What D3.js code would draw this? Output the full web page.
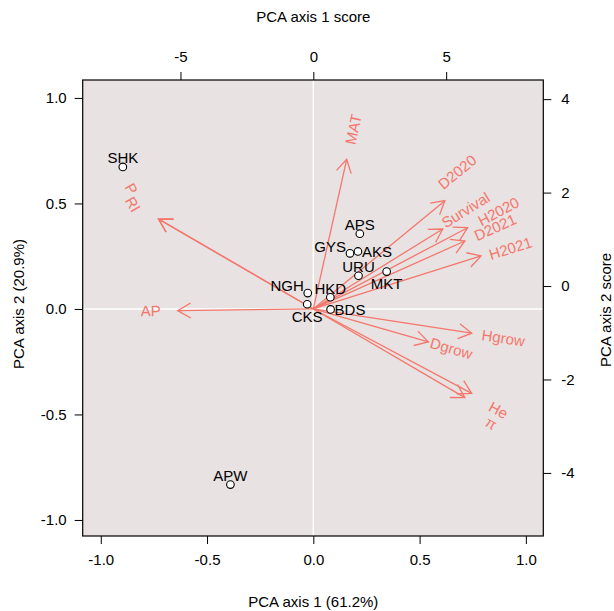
<!DOCTYPE html>
<html>
<head>
<meta charset="utf-8">
<script src="https://cdn.jsdelivr.net/npm/d3@7"></script>
<style>
  body { margin: 0; background: #fff; }
  text { font-family: "Liberation Sans", Arial, sans-serif; font-size: 15px; }
  .tick line { stroke: #000; }
  .domain { display: none; }
  .trait { fill: #F4776C; }
  .arrow { stroke: #F4776C; stroke-width: 1.3px; fill: none; }
</style>
</head>
<body>
<div id="chart"></div>
<script>
// site scores (PCA axis 1 score, PCA axis 2 score)
var sites = ["SHK", "NGH", "CKS", "HKD", "BDS", "APS", "GYS", "AKS", "URU", "MKT", "APW"];
var score1 = [-7.17, -0.21, -0.23, 0.64, 0.65, 1.75, 1.38, 1.68, 1.70, 2.76, -3.12];
var score2 = [2.55, -0.15, -0.39, -0.24, -0.50, 1.12, 0.70, 0.74, 0.22, 0.31, -4.25];

// trait loadings (axis 1, axis 2)
var traits = ["AP", "P", "RI", "MAT", "D2020", "Survival", "H2020", "D2021", "H2021", "Hgrow", "Dgrow", "He", "π"];
var load1 = [-0.638, -0.729, -0.727, 0.157, 0.619, 0.609, 0.726, 0.713, 0.789, 0.745, 0.541, 0.745, 0.713];
var load2 = [-0.008, 0.427, 0.425, 0.709, 0.513, 0.379, 0.385, 0.322, 0.251, -0.115, -0.156, -0.400, -0.420];

var loadTicks = [-1.0, -0.5, 0.0, 0.5, 1.0];
var score1Ticks = [-5, 0, 5];
var score2Ticks = [-4, -2, 0, 2, 4];

var width = 614, height = 611;
var L = 82.7, R = 543.3, T = 80, B = 536;

var x = d3.scaleLinear().domain([-1.085, 1.082]).range([L, R]);
var y = d3.scaleLinear().domain([-1.076, 1.085]).range([B, T]);
var xs = d3.scaleLinear().domain([-8.68, 8.656]).range([L, R]);
var ys = d3.scaleLinear().domain([-5.35, 4.41]).range([B, T]);

var svg = d3.select("#chart").append("svg")
    .attr("width", width).attr("height", height);

svg.append("rect")
    .attr("x", L).attr("y", T).attr("width", R - L).attr("height", B - T)
    .attr("fill", "#E8E2E2");

// zero lines
svg.append("line").attr("x1", x(0)).attr("x2", x(0)).attr("y1", T).attr("y2", B)
    .attr("stroke", "#fff").attr("stroke-width", 1.5);
svg.append("line").attr("x1", L).attr("x2", R).attr("y1", y(0)).attr("y2", y(0))
    .attr("stroke", "#fff").attr("stroke-width", 1.5);

// axes (plain hyphen for minus, like the R original)
function hy(f) { return function(d) { return f(d).replace("\u2212", "-"); }; }
var fmt = hy(d3.format(".1f")), ifmt = hy(d3.format("d"));
svg.append("g").attr("transform", "translate(0," + B + ")")
    .call(d3.axisBottom(x).tickValues(loadTicks).tickFormat(fmt).tickSize(8).tickPadding(10));
svg.append("g").attr("transform", "translate(" + L + ",0)")
    .call(d3.axisLeft(y).tickValues(loadTicks).tickFormat(fmt).tickSize(8).tickPadding(8));
svg.append("g").attr("transform", "translate(0," + T + ")")
    .call(d3.axisTop(xs).tickValues(score1Ticks).tickFormat(ifmt).tickSize(8).tickPadding(10));
svg.append("g").attr("transform", "translate(" + R + ",0)")
    .call(d3.axisRight(ys).tickValues(score2Ticks).tickFormat(ifmt).tickSize(8).tickPadding(10));
svg.selectAll(".tick text").attr("font-size", 15).attr("fill", "#000")
    .style("font-family", "'Liberation Sans', Arial, sans-serif");

svg.append("rect")
    .attr("x", L).attr("y", T).attr("width", R - L).attr("height", B - T)
    .attr("fill", "none").attr("stroke", "#000").attr("stroke-width", 1.2);

// axis titles
svg.append("text").attr("x", x(0)).attr("y", 607).attr("text-anchor", "middle").text("PCA axis 1 (61.2%)");
svg.append("text").attr("x", x(0)).attr("y", 22).attr("text-anchor", "middle").text("PCA axis 1 score");
svg.append("text").attr("transform", "translate(24,304) rotate(-90)").attr("text-anchor", "middle")
    .text("PCA axis 2 (20.9%)");
svg.append("text").attr("transform", "translate(611,310) rotate(-90)").attr("text-anchor", "middle")
    .text("PCA axis 2 score");

// trait arrows
var ox = x(0), oy = y(0);
var nudge = { "P": [4, -12], "RI": [5, 3], "D2020": [-14, -7], "He": [-5, 0], "π": [-4, 8],
              "Survival": [-3, -3], "H2021": [-4, 3] };
var turn = { "P": 60, "RI": 60 };
var g = svg.append("g");
traits.forEach(function(name, i) {
    var tx = x(load1[i]), ty = y(load2[i]);
    var dx = tx - ox, dy = ty - oy;
    var a = Math.atan2(dy, dx);
    g.append("line").attr("class", "arrow")
        .attr("x1", ox).attr("y1", oy).attr("x2", tx).attr("y2", ty);
    var len = 15, spread = Math.PI / 6;
    g.append("path").attr("class", "arrow")
        .attr("d", "M" + (tx - len * Math.cos(a - spread)) + "," + (ty - len * Math.sin(a - spread)) +
            " L" + tx + "," + ty +
            " L" + (tx - len * Math.cos(a + spread)) + "," + (ty - len * Math.sin(a + spread)));
    var deg = a * 180 / Math.PI;
    if (dx < 0) deg += 180;
    if (deg > 180) deg -= 360;
    if (turn[name] !== undefined) deg = turn[name];
    var n = nudge[name] || [0, 0];
    var lx = ox + dx * 1.2 + n[0], ly = oy + dy * 1.2 + n[1];
    g.append("text").attr("class", "trait")
        .attr("transform", "translate(" + lx + "," + ly + ") rotate(" + deg + ")")
        .attr("text-anchor", "middle").attr("dy", "0.35em")
        .text(name);
});

// site points
var place = { SHK: "above", NGH: "upleft", CKS: "below", HKD: "above", BDS: "right", APS: "above",
              GYS: "upleft", AKS: "right", URU: "above", MKT: "below", APW: "above" };
var pts = svg.append("g");
sites.forEach(function(name, i) {
    var px = xs(score1[i]), py = ys(score2[i]);
    pts.append("circle").attr("cx", px).attr("cy", py).attr("r", 3.8)
        .attr("fill", "#fff").attr("stroke", "#000").attr("stroke-width", 1.1);
    var p = place[name], t = pts.append("text").attr("dy", "0.35em").attr("fill", "#000").text(name);
    if (p == "above") t.attr("x", px).attr("y", py - 9).attr("text-anchor", "middle");
    else if (p == "below") t.attr("x", px).attr("y", py + 12).attr("text-anchor", "middle");
    else if (p == "right") t.attr("x", px + 4).attr("y", py).attr("text-anchor", "start");
    else t.attr("x", px - 4).attr("y", py - 7).attr("text-anchor", "end");
});
</script>
</body>
</html>
